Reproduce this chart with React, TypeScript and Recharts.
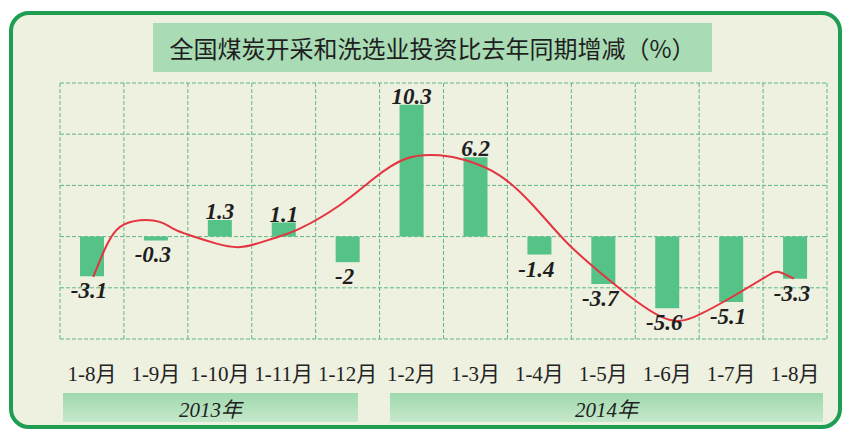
import React from 'react';
import { ComposedChart, Bar, Line, XAxis, YAxis, CartesianGrid, LabelList } from 'recharts';

const title = '全国煤炭开采和洗选业投资比去年同期增减（%）';
const categories = ['1-8月', '1-9月', '1-10月', '1-11月', '1-12月', '1-2月', '1-3月', '1-4月', '1-5月', '1-6月', '1-7月', '1-8月'];
const growth = [-3.1, -0.3, 1.3, 1.1, -2, 10.3, 6.2, -1.4, -3.7, -5.6, -5.1, -3.3];
const trendX = [0.52, 0.73, 0.94, 1.25, 1.56, 1.77, 2.03, 2.45, 2.86, 3.33, 3.75, 4.375, 4.9, 5.42, 5.94, 6.35, 6.875, 7.4, 7.92, 8.44, 8.96, 9.53, 10.0, 10.52, 11.04, 11.25, 11.48];
const trendY = [-3.15, -0.68, 0.76, 1.28, 1.15, 0.62, 0.1, -0.55, -0.8, -0.15, 0.62, 2.45, 4.5, 6.1, 6.35, 5.96, 4.79, 2.45, -0.42, -2.76, -4.84, -6.5, -6.1, -4.7, -3.15, -2.76, -3.28];
const yTicks = [-8, -4, 0, 4, 8, 12];
const gridTicks = [0, 1, 2, 3, 4, 5, 6, 7, 8, 9, 10, 11, 12];
const years = ['2013年', '2014年'];

const barData = categories.map((c, i) => ({ key: `c${i}`, label: c, value: growth[i] }));
const trendData = trendX.map((t, i) => ({ t, v: trendY[i] }));

const serif = "'Liberation Serif', 'Times New Roman', 'Noto Sans CJK SC', serif";

const renderLabel = (props: any) => {
  const { x, y, width, height, value } = props;
  const top = Math.min(y, y + height);
  const bottom = Math.max(y, y + height);
  const cx = x + width / 2;
  const ty = value >= 0 ? top - 1 : bottom + 22;
  return (
    <text x={cx - (value < 0 ? 3 : 0)} y={ty} textAnchor="middle" fontFamily={serif} fontStyle="italic" fontWeight="bold" fontSize={23} fill="#1e1e1e">
      {value}
    </text>
  );
};

const renderTick = (props: any) => {
  const { x, y, index } = props;
  return (
    <text x={x} y={y + 40} textAnchor="middle" fontFamily={serif} fontSize={21} fill="#222">
      {categories[index]}
    </text>
  );
};

const bandStyle: React.CSSProperties = {
  position: 'absolute',
  top: 393,
  height: 29,
  background: 'linear-gradient(#9fd9ad, #c6e8cb)',
  display: 'flex',
  alignItems: 'center',
  justifyContent: 'center',
  fontFamily: serif,
  fontStyle: 'italic',
  fontSize: 21,
  color: '#1f1f1f',
};

export default function App() {
  return (
    <div style={{ position: 'absolute', left: 0, top: 0, width: 844, height: 430, background: '#ffffff', overflow: 'hidden' }}>
      <div
        style={{
          position: 'absolute',
          left: 9,
          top: 11,
          width: 825,
          height: 410,
          border: '4px solid #1e9e52',
          borderRadius: 20,
          background: '#eef0e0',
        }}
      />
      <div
        style={{
          position: 'absolute',
          left: 153,
          top: 23,
          width: 559,
          height: 49,
          background: '#a9dbb4',
          display: 'flex',
          alignItems: 'center',
          justifyContent: 'center',
          fontFamily: "'Noto Sans CJK SC', sans-serif",
          fontSize: 24,
          color: '#1f1f1f',
          whiteSpace: 'nowrap',
        }}
      >
        {title}
      </div>
      <div style={{ ...bandStyle, left: 63, width: 295 }}>{years[0]}</div>
      <div style={{ ...bandStyle, left: 390, width: 433 }}>{years[1]}</div>
      <div style={{ position: 'absolute', left: 0, top: 0 }}>
        <ComposedChart width={844} height={430} data={barData} margin={{ top: 83, right: 17, left: 60, bottom: 61 }}>
          <XAxis xAxisId="num" type="number" dataKey="t" domain={[0, 12]} ticks={gridTicks} allowDataOverflow hide />
          <XAxis
            xAxisId="cat"
            dataKey="key"
            height={30}
            axisLine={false}
            tickLine={false}
            tickSize={0}
            interval={0}
            tick={renderTick}
          />
          <YAxis type="number" domain={[-8, 12]} ticks={yTicks} allowDataOverflow hide />
          <CartesianGrid xAxisId="num" stroke="#5fb883" strokeDasharray="4 2" strokeWidth={1} />
          <Bar xAxisId="cat" dataKey="value" fill="#55c287" barSize={24} isAnimationActive={false}>
            <LabelList dataKey="value" content={renderLabel} />
          </Bar>
          <Line
            xAxisId="num"
            data={trendData}
            dataKey="v"
            type="natural"
            stroke="#e4343f"
            strokeWidth={2}
            dot={false}
            activeDot={false}
            isAnimationActive={false}
          />
        </ComposedChart>
      </div>
    </div>
  );
}
